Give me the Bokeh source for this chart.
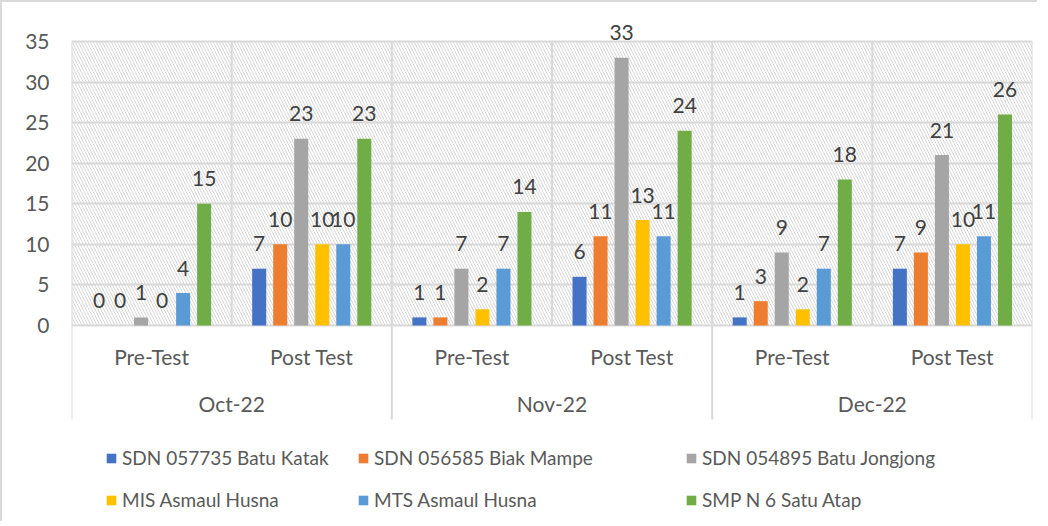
from bokeh.plotting import figure
from bokeh.models import (ColumnDataSource, FactorRange, Range1d, FixedTicker,
                          Legend, LegendItem)
from bokeh.transform import dodge
from bokeh.core.properties import value
from bokeh.embed import file_html
from bokeh.resources import INLINE

months = ["Oct-22", "Nov-22", "Dec-22"]
tests = ["Pre-Test", "Post Test"]
schools = ["SDN 057735 Batu Katak", "SDN 056585 Biak Mampe", "SDN 054895 Batu Jongjong",
           "MIS Asmaul Husna", "MTS Asmaul Husna", "SMP N 6 Satu Atap"]
colors = ["#4472C4", "#ED7D31", "#A5A5A5", "#FFC000", "#5B9BD5", "#70AD47"]

# values per school, in order: Oct Pre, Oct Post, Nov Pre, Nov Post, Dec Pre, Dec Post
batu_katak = [0, 7, 1, 6, 1, 7]
biak_mampe = [0, 10, 1, 11, 3, 9]
batu_jongjong = [1, 23, 7, 33, 9, 21]
mis_asmaul = [0, 10, 2, 13, 2, 10]
mts_asmaul = [4, 10, 7, 11, 7, 11]
smp_satu_atap = [15, 23, 14, 24, 18, 26]
series = [batu_katak, biak_mampe, batu_jongjong, mis_asmaul, mts_asmaul, smp_satu_atap]

yticks = [0, 5, 10, 15, 20, 25, 30, 35]

FONT = "Lato"
FS = "21px"
LEG_FS = "19px"
AX_COLOR = "#595959"
LBL_COLOR = "#404040"
GRID = "#d9d9d9"

factors = [(m, t) for m in months for t in tests]
data = {"x": factors}
for i, s in enumerate(series):
    data[f"s{i}"] = s
    data[f"l{i}"] = [str(v) for v in s]
source = ColumnDataSource(data)

# pixel layout -> data range so that 0..35 occupy the reference plot area
px_per_unit = 284 / 35
frame_top_val = (326 - 14) / px_per_unit
frame_h = 506
y_start = frame_top_val - frame_h / px_per_unit
sep_bottom = -(420 - 326) / px_per_unit

p = figure(width=1037, height=521,
           x_range=FactorRange(*factors, group_padding=0, range_padding=0, factor_padding=0),
           y_range=Range1d(y_start, frame_top_val),
           output_backend="svg", toolbar_location=None, x_axis_location=None,
           min_border_left=69, min_border_right=7, min_border_top=11, min_border_bottom=4)
p.outline_line_color = None
p.styles = {"border-left": "2px solid #d9d9d9", "border-top": "2px solid #d9d9d9"}

# hatched plot area
p.vbar(x=factors, top=35, bottom=0, width=1, fill_alpha=0, line_color=None,
       hatch_pattern="\\", hatch_color="#d6d6d6", hatch_scale=6, hatch_weight=1)

p.xgrid.visible = False
p.ygrid.ticker = FixedTicker(ticks=yticks)
p.ygrid.grid_line_color = GRID
p.ygrid.grid_line_width = 2

p.yaxis.ticker = FixedTicker(ticks=yticks)
p.yaxis.axis_line_color = None
p.yaxis.major_tick_line_color = None
p.yaxis.minor_tick_line_color = None
p.yaxis.major_tick_out = 0
p.yaxis.major_label_standoff = 22
p.yaxis.major_label_text_font = FONT
p.yaxis.major_label_text_font_size = FS
p.yaxis.major_label_text_color = AX_COLOR

# separators
sub_src = ColumnDataSource({"x": [(m, "Post Test") for m in months]})
p.segment(x0=dodge("x", -0.5, range=p.x_range), x1=dodge("x", -0.5, range=p.x_range),
          y0=0, y1=35, source=sub_src, line_color=GRID, line_width=2)
maj_src = ColumnDataSource({"x": [(m, "Pre-Test") for m in months]})
p.segment(x0=dodge("x", -0.5, range=p.x_range), x1=dodge("x", -0.5, range=p.x_range),
          y0=sep_bottom, y1=35, source=maj_src, line_color=GRID, line_width=2)
end_src = ColumnDataSource({"x": [(months[-1], tests[-1])]})
p.segment(x0=dodge("x", 0.5, range=p.x_range), x1=dodge("x", 0.5, range=p.x_range),
          y0=sep_bottom, y1=35, source=end_src, line_color=GRID, line_width=2)

bar_w = 14 / 160
step = 21 / 160
renderers = []
for i in range(len(series)):
    off = (i - 2.5) * step
    r = p.vbar(x=dodge("x", off, range=p.x_range), top=f"s{i}", width=bar_w,
               source=source, fill_color=colors[i], line_color=None)
    renderers.append(r)
    p.text(x=dodge("x", off, range=p.x_range), y=f"s{i}", text=f"l{i}", source=source,
           text_align="center", text_baseline="alphabetic", y_offset=-25,
           text_font=value(FONT), text_font_size=FS, text_color=LBL_COLOR)

# category labels
p.text(x=factors, y=[0] * len(factors), text=[t for m, t in factors],
       text_align="center", text_baseline="middle", y_offset=31,
       text_font=value(FONT), text_font_size=FS, text_color=AX_COLOR)
p.text(x=months, y=[0] * len(months), text=months,
       text_align="center", text_baseline="middle", y_offset=78,
       text_font=value(FONT), text_font_size=FS, text_color=AX_COLOR)

# legends: three columns of two items
col_x = [34, 286, 614]
for c in range(3):
    items = [LegendItem(label=schools[c], renderers=[renderers[c]]),
             LegendItem(label=schools[c + 3], renderers=[renderers[c + 3]])]
    lg = Legend(items=items, location=(col_x[c], 8), orientation="vertical",
                glyph_width=12, glyph_height=12, label_standoff=5, spacing=19,
                padding=0, margin=0, border_line_color=None, background_fill_alpha=0,
                label_text_font=FONT, label_text_font_size=LEG_FS, label_text_color=AX_COLOR)
    p.add_layout(lg, "center")

open("out.html", "w").write(file_html(p, INLINE))
